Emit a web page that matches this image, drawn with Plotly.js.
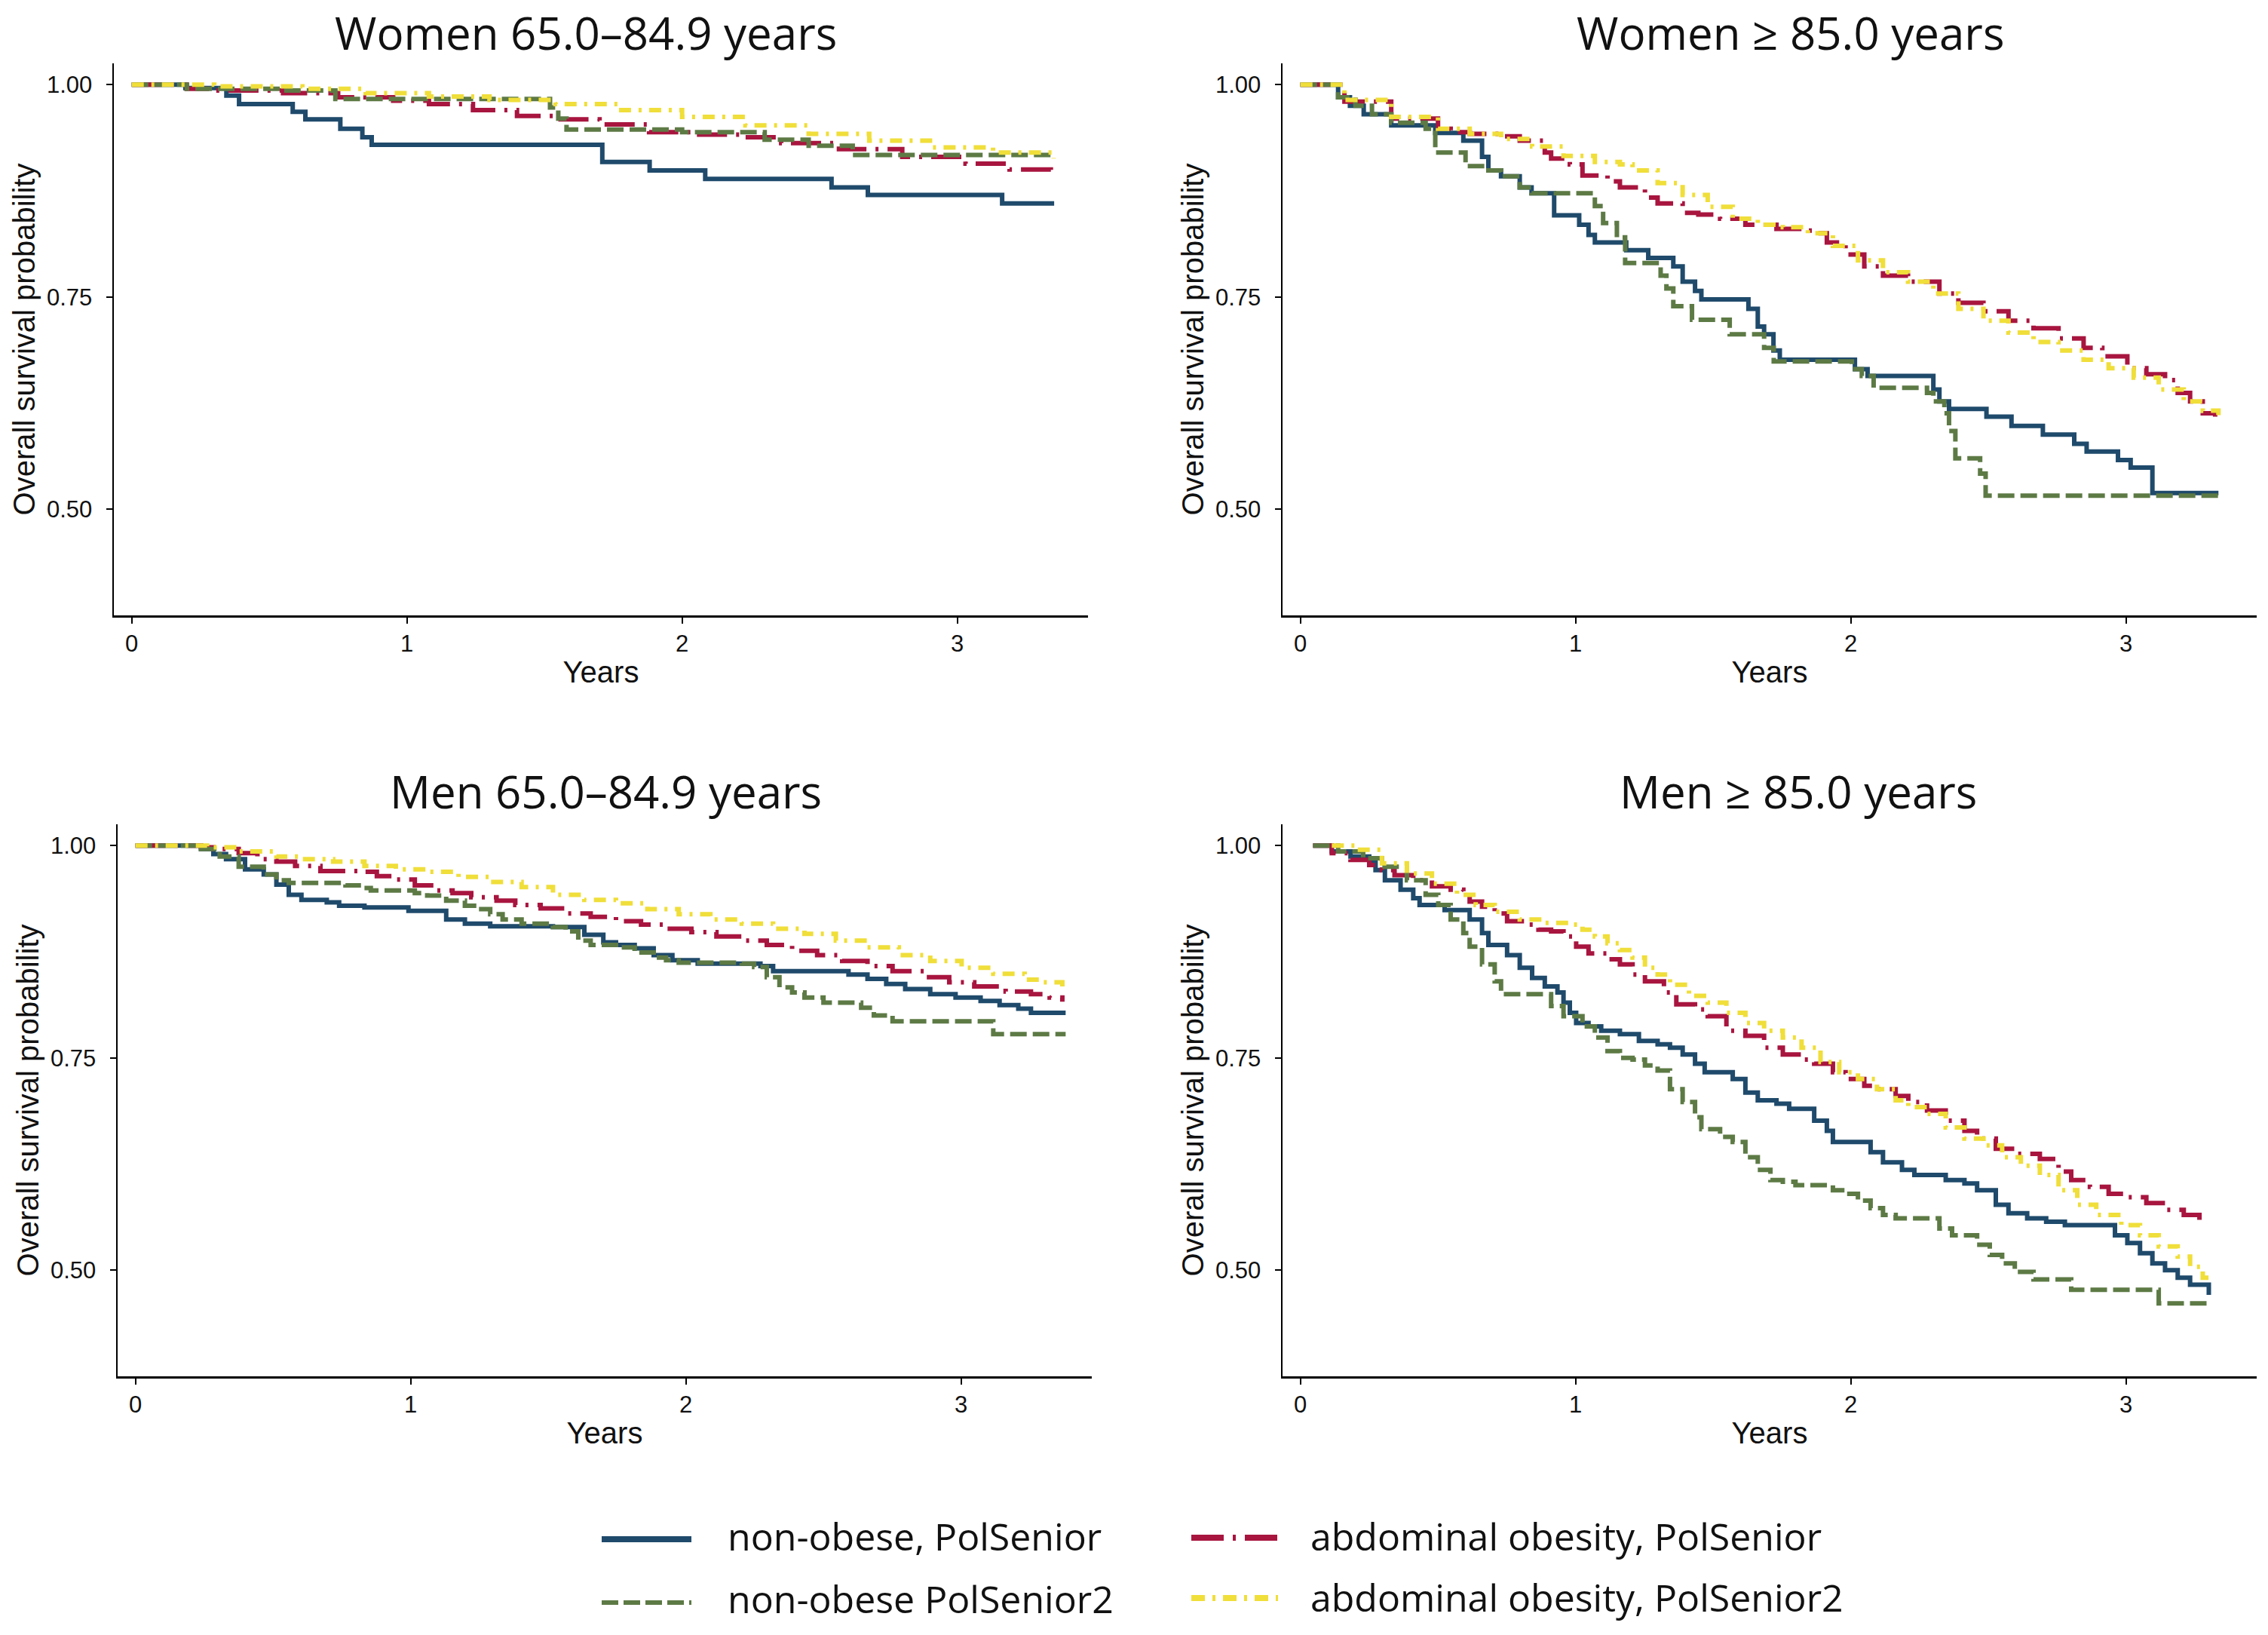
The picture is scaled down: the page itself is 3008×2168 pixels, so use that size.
<!DOCTYPE html>
<html>
<head>
<meta charset="utf-8">
<script src="https://cdn.plot.ly/plotly-3.0.1.min.js"></script>
<style>
html,body{margin:0;padding:0;background:#ffffff;}
#chart{width:3008px;height:2168px;}
</style>
</head>
<body>
<div id="chart"></div>
<script>
// ---------- categories / labels ----------
const panelTitles = ["Women 65.0–84.9 years", "Women ≥ 85.0 years", "Men 65.0–84.9 years", "Men ≥ 85.0 years"];
const seriesNames = ["non-obese, PolSenior", "abdominal obesity, PolSenior", "non-obese PolSenior2", "abdominal obesity, PolSenior2"];
const xTickVals = [0, 1, 2, 3];
const xTickText = ["0", "1", "2", "3"];
const yTickVals = [0.50, 0.75, 1.00];
const yTickText = ["0.50", "0.75", "1.00"];
const xTitle = "Years";
const yTitle = "Overall survival probability";

// ---------- Women 65.0–84.9 ----------
const wY_nob1_t = [0, 0.195, 0.344, 0.390, 0.585, 0.631, 0.758, 0.838, 0.872, 1.710, 1.882, 2.084, 2.543, 2.675, 3.163, 3.352];
const wY_nob1_s = [1.000, 0.996, 0.987, 0.977, 0.968, 0.959, 0.948, 0.938, 0.929, 0.909, 0.899, 0.889, 0.879, 0.870, 0.860, 0.860];
const wY_abd1_t = [0, 0.20, 0.30, 0.55, 0.75, 0.95, 1.08, 1.24, 1.40, 1.54, 1.70, 1.88, 2.05, 2.23, 2.36, 2.57, 2.80, 3.03, 3.19, 3.34];
const wY_abd1_s = [1.000, 0.995, 0.993, 0.990, 0.985, 0.981, 0.977, 0.970, 0.963, 0.959, 0.953, 0.944, 0.941, 0.938, 0.931, 0.924, 0.915, 0.907, 0.900, 0.893];
const wY_nob2_t = [0, 0.20, 0.55, 0.74, 1.52, 1.55, 1.58, 2.00, 2.30, 2.46, 2.62, 3.35];
const wY_nob2_s = [1.000, 0.995, 0.993, 0.983, 0.973, 0.960, 0.947, 0.944, 0.935, 0.928, 0.917, 0.917];
const wY_abd2_t = [0, 0.30, 0.62, 0.85, 1.08, 1.30, 1.54, 1.77, 2.00, 2.23, 2.46, 2.68, 2.91, 3.13, 3.35];
const wY_abd2_s = [1.000, 0.998, 0.995, 0.990, 0.986, 0.982, 0.977, 0.970, 0.962, 0.952, 0.942, 0.934, 0.926, 0.920, 0.913];

// ---------- Women >= 85.0 ----------
const wO_nob1_t = [0, 0.137, 0.18, 0.23, 0.33, 0.49, 0.592, 0.660, 0.683, 0.729, 0.797, 0.840, 0.922, 1.013, 1.047, 1.070, 1.184, 1.264, 1.355, 1.389, 1.434, 1.457, 1.628, 1.662, 1.685, 1.719, 1.742, 2.015, 2.061, 2.300, 2.322, 2.357, 2.493, 2.584, 2.698, 2.812, 2.857, 2.971, 3.017, 3.096, 3.336];
const wO_nob1_s = [1.000, 0.985, 0.975, 0.965, 0.952, 0.943, 0.934, 0.915, 0.899, 0.892, 0.879, 0.872, 0.846, 0.835, 0.823, 0.814, 0.805, 0.796, 0.786, 0.768, 0.757, 0.747, 0.736, 0.715, 0.706, 0.687, 0.676, 0.665, 0.657, 0.641, 0.627, 0.618, 0.609, 0.598, 0.588, 0.577, 0.568, 0.558, 0.549, 0.519, 0.519];
const wO_abd1_t = [0, 0.16, 0.33, 0.50, 0.546, 0.615, 0.729, 0.797, 0.888, 0.911, 0.979, 1.025, 1.116, 1.161, 1.252, 1.298, 1.389, 1.446, 1.525, 1.617, 1.730, 1.821, 1.867, 1.913, 1.981, 2.049, 2.117, 2.208, 2.322, 2.391, 2.482, 2.573, 2.664, 2.755, 2.846, 2.914, 3.005, 3.074, 3.142, 3.188, 3.233, 3.279, 3.324];
const wO_abd1_s = [1.000, 0.980, 0.960, 0.948, 0.944, 0.942, 0.939, 0.934, 0.920, 0.913, 0.906, 0.893, 0.886, 0.879, 0.867, 0.860, 0.849, 0.847, 0.842, 0.835, 0.830, 0.828, 0.825, 0.814, 0.800, 0.786, 0.775, 0.768, 0.754, 0.743, 0.733, 0.722, 0.713, 0.701, 0.690, 0.680, 0.666, 0.659, 0.652, 0.637, 0.627, 0.613, 0.609];
const wO_nob2_t = [0, 0.137, 0.20, 0.26, 0.33, 0.455, 0.49, 0.60, 0.66, 0.729, 0.797, 0.84, 1.070, 1.10, 1.15, 1.18, 1.309, 1.33, 1.355, 1.423, 1.56, 1.685, 1.72, 2.004, 2.04, 2.083, 2.277, 2.30, 2.34, 2.357, 2.38, 2.47, 2.49, 3.336];
const wO_nob2_s = [1.000, 0.985, 0.975, 0.965, 0.955, 0.948, 0.920, 0.904, 0.899, 0.892, 0.879, 0.872, 0.857, 0.837, 0.820, 0.790, 0.775, 0.760, 0.739, 0.723, 0.706, 0.690, 0.674, 0.665, 0.657, 0.643, 0.637, 0.627, 0.613, 0.592, 0.560, 0.542, 0.516, 0.516];
const wO_abd2_t = [0, 0.16, 0.33, 0.50, 0.615, 0.729, 0.842, 0.956, 1.070, 1.161, 1.207, 1.298, 1.389, 1.480, 1.571, 1.662, 1.753, 1.844, 1.935, 2.026, 2.117, 2.208, 2.300, 2.391, 2.482, 2.573, 2.664, 2.755, 2.846, 2.937, 3.028, 3.119, 3.210, 3.279, 3.336];
const wO_abd2_s = [1.000, 0.982, 0.962, 0.948, 0.942, 0.936, 0.927, 0.916, 0.909, 0.906, 0.899, 0.884, 0.870, 0.856, 0.842, 0.835, 0.832, 0.825, 0.810, 0.793, 0.779, 0.768, 0.754, 0.736, 0.722, 0.708, 0.697, 0.687, 0.676, 0.666, 0.655, 0.641, 0.627, 0.616, 0.609];

// ---------- Men 65.0–84.9 ----------
const mY_nob1_t = [0, 0.238, 0.283, 0.329, 0.398, 0.466, 0.512, 0.557, 0.603, 0.695, 0.740, 0.832, 0.992, 1.129, 1.197, 1.289, 1.517, 1.631, 1.700, 1.746, 1.814, 1.883, 1.951, 2.043, 2.271, 2.317, 2.591, 2.660, 2.728, 2.797, 2.888, 2.980, 3.071, 3.140, 3.208, 3.254, 3.380];
const mY_nob1_s = [1.000, 0.996, 0.990, 0.984, 0.972, 0.966, 0.954, 0.942, 0.936, 0.933, 0.929, 0.927, 0.923, 0.913, 0.908, 0.905, 0.904, 0.895, 0.886, 0.883, 0.879, 0.871, 0.865, 0.861, 0.858, 0.852, 0.848, 0.843, 0.837, 0.831, 0.825, 0.821, 0.817, 0.812, 0.808, 0.803, 0.803];
const mY_abd1_t = [0, 0.238, 0.283, 0.375, 0.443, 0.512, 0.580, 0.672, 0.832, 0.877, 0.946, 1.015, 1.083, 1.152, 1.220, 1.312, 1.380, 1.472, 1.563, 1.654, 1.746, 1.837, 1.928, 2.020, 2.111, 2.203, 2.294, 2.386, 2.477, 2.568, 2.660, 2.751, 2.865, 2.957, 3.048, 3.162, 3.254, 3.322, 3.368];
const mY_abd1_s = [1.000, 0.998, 0.996, 0.991, 0.984, 0.981, 0.976, 0.970, 0.969, 0.964, 0.960, 0.953, 0.947, 0.944, 0.939, 0.935, 0.930, 0.926, 0.920, 0.916, 0.911, 0.907, 0.902, 0.898, 0.893, 0.888, 0.883, 0.876, 0.871, 0.864, 0.858, 0.852, 0.845, 0.839, 0.834, 0.828, 0.825, 0.821, 0.816];
const mY_nob2_t = [0, 0.238, 0.306, 0.375, 0.466, 0.512, 0.557, 0.763, 0.832, 0.855, 1.015, 1.060, 1.129, 1.197, 1.243, 1.289, 1.334, 1.403, 1.517, 1.563, 1.609, 1.654, 1.746, 1.814, 1.883, 1.928, 1.974, 2.203, 2.248, 2.294, 2.340, 2.386, 2.431, 2.500, 2.637, 2.683, 2.751, 3.117, 3.380];
const mY_nob2_s = [1.000, 0.996, 0.987, 0.975, 0.966, 0.959, 0.956, 0.953, 0.950, 0.947, 0.944, 0.941, 0.935, 0.929, 0.925, 0.919, 0.913, 0.908, 0.904, 0.899, 0.888, 0.883, 0.880, 0.874, 0.868, 0.865, 0.862, 0.861, 0.857, 0.845, 0.833, 0.827, 0.821, 0.815, 0.809, 0.800, 0.793, 0.778, 0.778];
const mY_abd2_t = [0, 0.260, 0.375, 0.512, 0.603, 0.718, 0.832, 0.946, 1.060, 1.174, 1.289, 1.403, 1.517, 1.631, 1.746, 1.860, 1.974, 2.089, 2.203, 2.317, 2.431, 2.545, 2.660, 2.774, 2.888, 3.002, 3.117, 3.231, 3.300, 3.368];
const mY_abd2_s = [1.000, 0.998, 0.993, 0.987, 0.984, 0.981, 0.976, 0.972, 0.969, 0.963, 0.957, 0.951, 0.942, 0.936, 0.932, 0.925, 0.919, 0.913, 0.908, 0.902, 0.896, 0.888, 0.880, 0.871, 0.864, 0.856, 0.849, 0.842, 0.839, 0.833];

// ---------- Men >= 85.0 ----------
const mO_nob1_t = [0.046, 0.114, 0.182, 0.250, 0.273, 0.307, 0.364, 0.410, 0.433, 0.524, 0.615, 0.660, 0.683, 0.751, 0.797, 0.842, 0.888, 0.934, 0.956, 0.979, 1.002, 1.047, 1.093, 1.161, 1.230, 1.298, 1.343, 1.389, 1.434, 1.469, 1.571, 1.617, 1.662, 1.730, 1.776, 1.867, 1.913, 1.935, 2.072, 2.117, 2.186, 2.231, 2.345, 2.413, 2.459, 2.527, 2.573, 2.641, 2.710, 2.778, 2.960, 3.005, 3.051, 3.096, 3.142, 3.188, 3.233, 3.301];
const mO_nob1_s = [1.000, 0.993, 0.987, 0.981, 0.971, 0.959, 0.948, 0.938, 0.930, 0.924, 0.913, 0.897, 0.883, 0.871, 0.856, 0.844, 0.834, 0.827, 0.815, 0.803, 0.791, 0.787, 0.782, 0.778, 0.770, 0.766, 0.762, 0.754, 0.743, 0.733, 0.725, 0.709, 0.700, 0.696, 0.690, 0.676, 0.664, 0.651, 0.639, 0.627, 0.618, 0.612, 0.606, 0.602, 0.594, 0.577, 0.567, 0.561, 0.557, 0.553, 0.541, 0.532, 0.520, 0.508, 0.500, 0.491, 0.483, 0.471];
const mO_abd1_t = [0.046, 0.114, 0.182, 0.250, 0.296, 0.342, 0.410, 0.478, 0.546, 0.592, 0.615, 0.660, 0.706, 0.751, 0.820, 0.865, 0.911, 0.956, 1.002, 1.047, 1.116, 1.161, 1.207, 1.252, 1.321, 1.366, 1.434, 1.480, 1.548, 1.617, 1.685, 1.753, 1.821, 1.867, 1.935, 1.981, 2.049, 2.095, 2.163, 2.209, 2.277, 2.345, 2.413, 2.459, 2.527, 2.596, 2.687, 2.755, 2.801, 2.869, 2.937, 3.005, 3.074, 3.142, 3.210, 3.267];
const mO_abd1_s = [1.000, 0.991, 0.983, 0.977, 0.971, 0.965, 0.959, 0.952, 0.948, 0.944, 0.934, 0.928, 0.920, 0.911, 0.907, 0.901, 0.899, 0.893, 0.881, 0.873, 0.866, 0.860, 0.848, 0.840, 0.827, 0.813, 0.807, 0.799, 0.782, 0.776, 0.762, 0.754, 0.748, 0.743, 0.733, 0.725, 0.717, 0.713, 0.705, 0.698, 0.688, 0.676, 0.664, 0.655, 0.643, 0.637, 0.631, 0.616, 0.606, 0.598, 0.590, 0.586, 0.579, 0.571, 0.565, 0.553];
const mO_nob2_t = [0.046, 0.137, 0.228, 0.296, 0.387, 0.455, 0.501, 0.546, 0.592, 0.615, 0.660, 0.706, 0.729, 0.911, 0.956, 1.025, 1.070, 1.116, 1.161, 1.207, 1.252, 1.298, 1.343, 1.389, 1.434, 1.457, 1.525, 1.571, 1.617, 1.662, 1.708, 1.753, 1.799, 1.935, 1.981, 2.026, 2.072, 2.117, 2.163, 2.322, 2.368, 2.459, 2.505, 2.550, 2.596, 2.664, 2.801, 3.119, 3.301];
const mO_nob2_s = [1.000, 0.993, 0.985, 0.975, 0.959, 0.942, 0.930, 0.913, 0.897, 0.881, 0.860, 0.840, 0.825, 0.811, 0.799, 0.787, 0.774, 0.758, 0.750, 0.748, 0.741, 0.735, 0.713, 0.698, 0.680, 0.666, 0.657, 0.651, 0.633, 0.618, 0.606, 0.604, 0.600, 0.594, 0.590, 0.582, 0.573, 0.565, 0.561, 0.549, 0.541, 0.530, 0.518, 0.508, 0.498, 0.489, 0.477, 0.461, 0.461];
const mO_abd2_t = [0.114, 0.205, 0.296, 0.387, 0.478, 0.569, 0.637, 0.706, 0.797, 0.888, 0.979, 1.025, 1.070, 1.116, 1.161, 1.207, 1.252, 1.298, 1.343, 1.412, 1.480, 1.548, 1.617, 1.685, 1.753, 1.821, 1.890, 1.958, 2.026, 2.095, 2.163, 2.209, 2.277, 2.345, 2.413, 2.482, 2.550, 2.618, 2.687, 2.755, 2.823, 2.892, 2.983, 3.051, 3.119, 3.188, 3.233, 3.279, 3.301];
const mO_abd2_s = [1.000, 0.995, 0.979, 0.967, 0.955, 0.942, 0.930, 0.922, 0.913, 0.909, 0.907, 0.901, 0.893, 0.885, 0.877, 0.868, 0.856, 0.848, 0.836, 0.823, 0.815, 0.803, 0.791, 0.782, 0.774, 0.762, 0.745, 0.733, 0.725, 0.713, 0.700, 0.692, 0.684, 0.668, 0.655, 0.647, 0.633, 0.623, 0.612, 0.594, 0.577, 0.565, 0.553, 0.541, 0.528, 0.516, 0.504, 0.491, 0.483];

// ---------- styling ----------
const seriesColors = ["#1f4a6b", "#a8153f", "#5d7a45", "#f0de3a"];
const seriesDash = ["solid", "40px,12px,4px,12px", "22px,8px", "16px,10px,4px,10px"];
const legendDash = ["solid", "43px,12px,4px,12px", "22px,7px", "18px,10px,4px,10px"];
const drawOrder = [0, 1, 2, 3];

const panels = [
  [[wY_nob1_t, wY_nob1_s], [wY_abd1_t, wY_abd1_s], [wY_nob2_t, wY_nob2_s], [wY_abd2_t, wY_abd2_s]],
  [[wO_nob1_t, wO_nob1_s], [wO_abd1_t, wO_abd1_s], [wO_nob2_t, wO_nob2_s], [wO_abd2_t, wO_abd2_s]],
  [[mY_nob1_t, mY_nob1_s], [mY_abd1_t, mY_abd1_s], [mY_nob2_t, mY_nob2_s], [mY_abd2_t, mY_abd2_s]],
  [[mO_nob1_t, mO_nob1_s], [mO_abd1_t, mO_abd1_s], [mO_nob2_t, mO_nob2_s], [mO_abd2_t, mO_abd2_s]]
];

const W = 3008, H = 2168;
const px = v => v / W;
const py = v => 1 - v / H;

const xDomains = [[px(151), px(1443)], [px(1701), px(2993)], [px(156), px(1448)], [px(1701), px(2993)]];
const yDomains = [[py(816), py(84)], [py(816), py(84)], [py(1825), py(1093)], [py(1825), py(1093)]];
// title box top edges (px from top)
const titlePos = [[777, 0], [2374, 0], [804, 1006], [2385, 1006]];

const tickFont = {family: "Liberation Sans, Arial, sans-serif", size: 31, color: "#111"};
const axTitleFont = {family: "Liberation Sans, Arial, sans-serif", size: 40, color: "#111"};

const traces = [];
panels.forEach((panel, p) => {
  const suffix = p === 0 ? "" : String(p + 1);
  drawOrder.forEach(k => {
    traces.push({
      type: "scatter",
      mode: "lines",
      x: panel[k][0],
      y: panel[k][1],
      name: seriesNames[k],
      legendgroup: seriesNames[k],
      showlegend: false,
      xaxis: "x" + suffix,
      yaxis: "y" + suffix,
      line: {shape: "hv", color: seriesColors[k], width: 6, dash: seriesDash[k]},
      hoverinfo: "x+y+name"
    });
  });
});

const layout = {
  width: W,
  height: H,
  margin: {l: 0, r: 0, t: 0, b: 0, pad: 0},
  paper_bgcolor: "#ffffff",
  plot_bgcolor: "#ffffff",
  showlegend: false,
  font: {family: "Liberation Sans, Arial, sans-serif", color: "#111"},
  annotations: [],
  shapes: []
};

for (let p = 0; p < 4; p++) {
  const suffix = p === 0 ? "" : String(p + 1);
  layout["xaxis" + suffix] = {
    domain: xDomains[p],
    anchor: "y" + suffix,
    range: [-0.065, 3.475],
    tickmode: "array",
    tickvals: xTickVals,
    ticktext: xTickText,
    ticks: "outside",
    ticklen: 8,
    tickwidth: 2,
    tickcolor: "#000",
    ticklabelstandoff: 0,
    showline: true,
    linecolor: "#000",
    linewidth: 2.5,
    showgrid: false,
    zeroline: false,
    automargin: false,
    fixedrange: true,
    tickfont: tickFont,
    title: {text: xTitle, font: axTitleFont, standoff: 8}
  };
  layout["yaxis" + suffix] = {
    domain: yDomains[p],
    anchor: "x" + suffix,
    range: [0.375, 1.025],
    tickmode: "array",
    tickvals: yTickVals,
    ticktext: yTickText,
    ticks: "outside",
    ticklen: 8,
    tickwidth: 2,
    tickcolor: "#000",
    ticklabelstandoff: 12,
    showline: true,
    linecolor: "#000",
    linewidth: 2.5,
    showgrid: false,
    zeroline: false,
    automargin: false,
    fixedrange: true,
    tickfont: tickFont,
    title: {text: yTitle, font: axTitleFont, standoff: 3}
  };
  layout.annotations.push({
    text: panelTitles[p],
    xref: "paper", yref: "paper",
    x: px(titlePos[p][0]), y: py(titlePos[p][1]),
    xanchor: "center", yanchor: "top",
    showarrow: false,
    font: {family: "Open Sans, Noto Sans, sans-serif", size: 60, color: "#111"}
  });
}

// legend (drawn as line samples + labels, two columns / two rows)
const legendSlots = [
  {k: 0, x0: 798, x1: 917, y: 2041, tx: 963, ty: 2037},
  {k: 1, x0: 1580, x1: 1695, y: 2039, tx: 1736, ty: 2037},
  {k: 2, x0: 798, x1: 917, y: 2125, tx: 963, ty: 2120},
  {k: 3, x0: 1580, x1: 1695, y: 2119, tx: 1736, ty: 2118}
];
legendSlots.forEach(s => {
  layout.shapes.push({
    type: "line", xref: "paper", yref: "paper",
    x0: px(s.x0), x1: px(s.x1), y0: py(s.y), y1: py(s.y),
    line: {color: seriesColors[s.k], width: s.k === 2 ? 6 : 8, dash: legendDash[s.k]}
  });
  layout.annotations.push({
    text: seriesNames[s.k],
    xref: "paper", yref: "paper",
    x: px(s.tx), y: py(s.ty),
    xanchor: "left", yanchor: "middle",
    showarrow: false,
    font: {family: "Open Sans, Noto Sans, sans-serif", size: 50, color: "#111"}
  });
});

Plotly.newPlot("chart", traces, layout, {displayModeBar: false, staticPlot: true});
</script>
</body>
</html>
